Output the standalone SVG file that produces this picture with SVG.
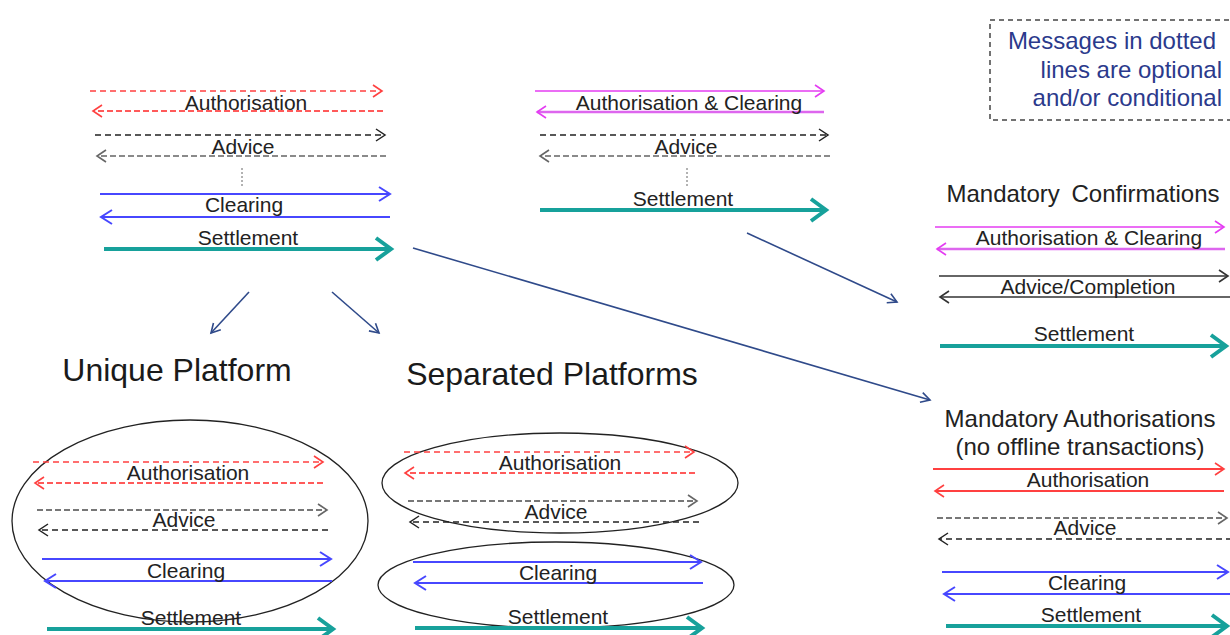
<svg xmlns="http://www.w3.org/2000/svg" width="1230" height="635" viewBox="0 0 1230 635">
<style>
text{font-family:"Liberation Sans",Arial,sans-serif;fill:#222;text-anchor:middle}
.lbl{font-size:21px}
.ttl{font-size:24px}
.big{font-size:32px;fill:#1a1a1a}
.leg{font-size:24px;fill:#2B3A8C;text-anchor:end}
line{fill:none}
.red1{stroke:#FF4040;stroke-width:1.5;stroke-dasharray:6 4}
.red2{stroke:#FF5A5A;stroke-width:2;stroke-dasharray:6 3}
.redS{stroke:#FF4040;stroke-width:1.8}
.blk1{stroke:#222;stroke-width:1.4;stroke-dasharray:6 4}
.gry1{stroke:#777;stroke-width:1.8;stroke-dasharray:6 3}
.gry2{stroke:#8A8A8A;stroke-width:2.2;stroke-dasharray:6 3}
.dot{stroke:#666;stroke-width:1;stroke-dasharray:2 2}
.blue{stroke:#4747FF;stroke-width:2}
.mag1{stroke:#E43CF2;stroke-width:1.5}
.mag2{stroke:#DD66EE;stroke-width:2.4}
.dk{stroke:#333;stroke-width:1.6}
.teal{stroke:#17A19B;stroke-width:4}
.conn{stroke:#2F4A8A;stroke-width:1.6}
.ell{fill:none;stroke:#222;stroke-width:1.3}
.mk{fill:none;stroke-linejoin:miter}
</style>
<defs>
<marker id="hRed" viewBox="0 0 12 14" refX="10" refY="7" markerWidth="12" markerHeight="14" orient="auto" markerUnits="userSpaceOnUse" overflow="visible"><path class="mk" d="M1,1 L10,7 L1,13" stroke="#FF4040" stroke-width="1.6"/></marker>
<marker id="hBlk" viewBox="0 0 12 14" refX="10" refY="7" markerWidth="12" markerHeight="14" orient="auto" markerUnits="userSpaceOnUse" overflow="visible"><path class="mk" d="M1,1 L10,7 L1,13" stroke="#222" stroke-width="1.5"/></marker>
<marker id="hGry" viewBox="0 0 12 14" refX="10" refY="7" markerWidth="12" markerHeight="14" orient="auto" markerUnits="userSpaceOnUse" overflow="visible"><path class="mk" d="M1,1 L10,7 L1,13" stroke="#666" stroke-width="1.6"/></marker>
<marker id="hDk" viewBox="0 0 12 14" refX="10" refY="7" markerWidth="12" markerHeight="14" orient="auto" markerUnits="userSpaceOnUse" overflow="visible"><path class="mk" d="M1,1 L10,7 L1,13" stroke="#333" stroke-width="1.6"/></marker>
<marker id="hMag" viewBox="0 0 12 14" refX="10" refY="7" markerWidth="12" markerHeight="14" orient="auto" markerUnits="userSpaceOnUse" overflow="visible"><path class="mk" d="M1,1 L10,7 L1,13" stroke="#E43CF2" stroke-width="1.6"/></marker>
<marker id="hBlue" viewBox="0 0 14 16" refX="12" refY="8" markerWidth="14" markerHeight="16" orient="auto" markerUnits="userSpaceOnUse" overflow="visible"><path class="mk" d="M1,1 L12,8 L1,15" stroke="#4747FF" stroke-width="2"/></marker>
<marker id="hTeal" viewBox="0 0 20 26" refX="17" refY="13" markerWidth="20" markerHeight="26" orient="auto" markerUnits="userSpaceOnUse" overflow="visible"><path class="mk" d="M2,2 L17,13 L2,24" stroke="#17A19B" stroke-width="4"/></marker>
<marker id="hNavy" viewBox="0 0 12 12" refX="10" refY="6" markerWidth="12" markerHeight="12" orient="auto" markerUnits="userSpaceOnUse" overflow="visible"><path class="mk" d="M1,1 L10,6 L1,11" stroke="#2F4A8A" stroke-width="1.6"/></marker>
</defs>
<rect width="1230" height="635" fill="#fff"/>

<g id="legend">
<rect x="990" y="20" width="260" height="100" fill="none" stroke="#444" stroke-width="1.5" stroke-dasharray="5 4"/>
<text class="leg" x="1216" y="49">Messages in dotted</text>
<text class="leg" x="1222" y="78">lines are optional</text>
<text class="leg" x="1222" y="106">and/or conditional</text>
</g>

<g id="current-model">
<line class="red1" x1="90" y1="91" x2="382" y2="91" marker-end="url(#hRed)"/>
<line class="red2" x1="383" y1="111" x2="93" y2="111" marker-end="url(#hRed)"/>
<text class="lbl" x="246" y="110">Authorisation</text>
<line class="blk1" x1="95" y1="135" x2="385" y2="135" marker-end="url(#hBlk)"/>
<line class="gry2" x1="386" y1="156" x2="97" y2="156" marker-end="url(#hGry)"/>
<text class="lbl" x="243" y="154">Advice</text>
<line class="dot" x1="242" y1="168" x2="242" y2="187"/>
<line class="blue" x1="100" y1="194" x2="390" y2="194" marker-end="url(#hBlue)"/>
<line class="blue" x1="390" y1="217" x2="101" y2="217" marker-end="url(#hBlue)"/>
<text class="lbl" x="244" y="212">Clearing</text>
<text class="lbl" x="248" y="245">Settlement</text>
<line class="teal" x1="104" y1="249" x2="391" y2="249" marker-end="url(#hTeal)"/>
</g>

<g id="combined-model">
<line class="mag1" x1="535" y1="91" x2="824" y2="91" marker-end="url(#hMag)"/>
<line class="mag2" x1="824" y1="112" x2="537" y2="112" marker-end="url(#hMag)"/>
<text class="lbl" x="689" y="110">Authorisation &amp; Clearing</text>
<line class="blk1" x1="540" y1="135" x2="828" y2="135" marker-end="url(#hBlk)"/>
<line class="gry2" x1="830" y1="156" x2="540" y2="156" marker-end="url(#hGry)"/>
<text class="lbl" x="686" y="154">Advice</text>
<line class="dot" x1="687" y1="168" x2="687" y2="187"/>
<text class="lbl" x="683" y="206">Settlement</text>
<line class="teal" x1="540" y1="210" x2="826" y2="210" marker-end="url(#hTeal)"/>
</g>

<g id="mandatory-confirmations">
<text class="ttl" x="1083" y="202" word-spacing="5">Mandatory Confirmations</text>
<line class="mag1" x1="935" y1="227" x2="1224" y2="227" marker-end="url(#hMag)"/>
<line class="mag2" x1="1225" y1="249" x2="937" y2="249" marker-end="url(#hMag)"/>
<text class="lbl" x="1089" y="245">Authorisation &amp; Clearing</text>
<line class="dk" x1="939" y1="276" x2="1228" y2="276" marker-end="url(#hDk)"/>
<line class="dk" x1="1232" y1="297" x2="940" y2="297" marker-end="url(#hDk)"/>
<text class="lbl" x="1088" y="294">Advice/Completion</text>
<text class="lbl" x="1084" y="341">Settlement</text>
<line class="teal" x1="940" y1="346" x2="1226" y2="346" marker-end="url(#hTeal)"/>
</g>

<g id="mandatory-authorisations">
<text class="ttl" x="1080" y="427">Mandatory Authorisations</text>
<text class="ttl" x="1080" y="455">(no offline transactions)</text>
<line class="redS" x1="933" y1="469" x2="1224" y2="469" marker-end="url(#hRed)"/>
<text class="lbl" x="1088" y="487">Authorisation</text>
<line class="redS" x1="1224" y1="491" x2="935" y2="491" marker-end="url(#hRed)"/>
<line class="gry1" x1="937" y1="518" x2="1227" y2="518" marker-end="url(#hGry)"/>
<line class="blk1" x1="1232" y1="539" x2="939" y2="539" marker-end="url(#hBlk)"/>
<text class="lbl" x="1085" y="535">Advice</text>
<line class="blue" x1="942" y1="572" x2="1228" y2="572" marker-end="url(#hBlue)"/>
<line class="blue" x1="1232" y1="594" x2="944" y2="594" marker-end="url(#hBlue)"/>
<text class="lbl" x="1087" y="590">Clearing</text>
<text class="lbl" x="1091" y="622">Settlement</text>
<line class="teal" x1="946" y1="626" x2="1227" y2="626" marker-end="url(#hTeal)"/>
</g>

<g id="unique-platform">
<text class="big" x="177" y="381">Unique Platform</text>
<ellipse class="ell" cx="190" cy="521" rx="178" ry="101"/>
<line class="red1" x1="33" y1="462" x2="323" y2="462" marker-end="url(#hRed)"/>
<line class="red2" x1="323" y1="483" x2="35" y2="483" marker-end="url(#hRed)"/>
<text class="lbl" x="188" y="480">Authorisation</text>
<line class="gry1" x1="37" y1="510" x2="327" y2="510" marker-end="url(#hGry)"/>
<line class="blk1" x1="328" y1="530" x2="39" y2="530" marker-end="url(#hBlk)"/>
<text class="lbl" x="184" y="527">Advice</text>
<line class="blue" x1="42" y1="559" x2="331" y2="559" marker-end="url(#hBlue)"/>
<line class="blue" x1="332" y1="581" x2="45" y2="581" marker-end="url(#hBlue)"/>
<text class="lbl" x="186" y="578">Clearing</text>
<text class="lbl" x="191" y="625">Settlement</text>
<line class="teal" x1="47" y1="629" x2="333" y2="629" marker-end="url(#hTeal)"/>
</g>

<g id="separated-platforms">
<text class="big" x="552" y="385">Separated Platforms</text>
<ellipse class="ell" cx="560" cy="483" rx="178" ry="50"/>
<ellipse class="ell" cx="556" cy="585" rx="178" ry="43"/>
<line class="red1" x1="404" y1="452" x2="694" y2="452" marker-end="url(#hRed)"/>
<line class="red2" x1="695" y1="473" x2="405" y2="473" marker-end="url(#hRed)"/>
<text class="lbl" x="560" y="470">Authorisation</text>
<line class="gry1" x1="408" y1="501" x2="697" y2="501" marker-end="url(#hGry)"/>
<line class="blk1" x1="699" y1="522" x2="410" y2="522" marker-end="url(#hBlk)"/>
<text class="lbl" x="556" y="519">Advice</text>
<line class="blue" x1="413" y1="562" x2="701" y2="562" marker-end="url(#hBlue)"/>
<line class="blue" x1="703" y1="583" x2="415" y2="583" marker-end="url(#hBlue)"/>
<text class="lbl" x="558" y="580">Clearing</text>
<text class="lbl" x="558" y="624">Settlement</text>
<line class="teal" x1="415" y1="628" x2="702" y2="628" marker-end="url(#hTeal)"/>
</g>

<g id="connectors">
<line class="conn" x1="249" y1="292" x2="211" y2="333" marker-end="url(#hNavy)"/>
<line class="conn" x1="332" y1="292" x2="379" y2="333" marker-end="url(#hNavy)"/>
<line class="conn" x1="747" y1="233" x2="897" y2="302" marker-end="url(#hNavy)"/>
<line class="conn" x1="413" y1="248" x2="930" y2="400" marker-end="url(#hNavy)"/>
</g>
</svg>
